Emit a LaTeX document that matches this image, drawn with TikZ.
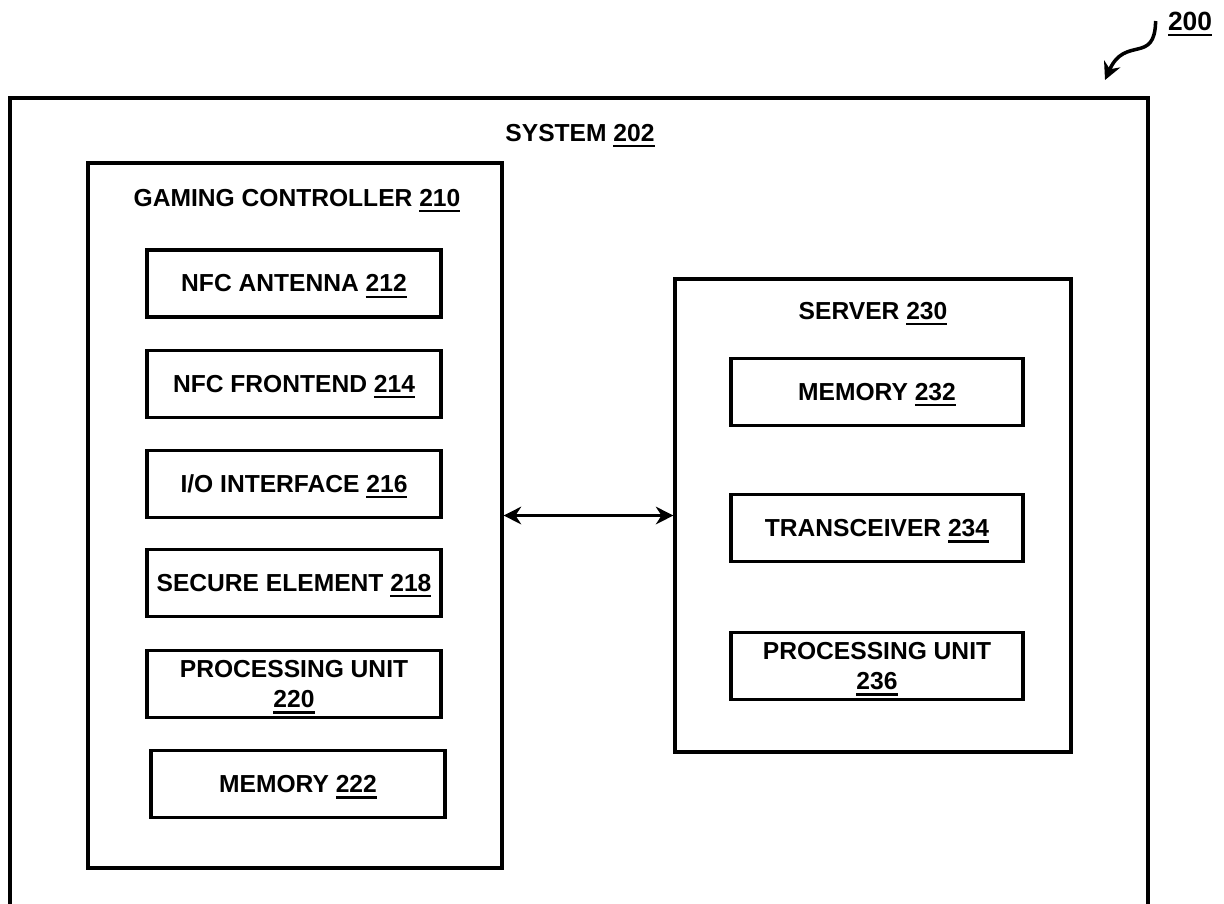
\documentclass[tikz,border=0pt]{standalone}
\usepackage{fontspec}
\setmainfont{Liberation Sans}
\usepackage{tikz}
\usetikzlibrary{arrows.meta, positioning, calc}

\newcommand{\refnum}[1]{\setbox0\hbox{#1}\leavevmode\rlap{\smash{\rule[-1.7pt]{\wd0}{0.65pt}}}\box0}

\begin{document}
\begin{tikzpicture}[
    font=\fontsize{7}{8.5}\selectfont\bfseries,
    blk/.style={draw, line width=0.9pt, rectangle, minimum width=2.94cm, minimum height=0.67cm, align=center, inner sep=1pt},
    frame/.style={draw, line width=0.9pt, rectangle, inner sep=0pt},
    link/.style={{Stealth[length=5pt,width=5pt]}-{Stealth[length=5pt,width=5pt]}, line width=0.9pt}
]
\useasboundingbox (0,0) rectangle (12.24,-9.03);
\clip (0,0) rectangle (12.24,-9.03);

% Outer frames
\node[frame, minimum width=11.38cm, minimum height=8.3cm] (sys) at (5.79,-5.13) {};
\node at (5.80,-1.33) (systxt) {SYSTEM \refnum{202}};
\node[frame, minimum width=4.14cm, minimum height=7.05cm] (gc) at (2.95,-5.155) {};
\node at (2.97,-1.98) (gctxt) {GAMING CONTROLLER \refnum{210}};
\node[frame, minimum width=3.96cm, minimum height=4.73cm] (srv) at (8.73,-5.155) {};
\node at (8.73,-3.11) (srvtxt) {SERVER \refnum{230}};

% Gaming controller parts
\node[blk] (ant) at (2.94,-2.835) {NFC ANTENNA \refnum{212}};
\node[blk, below=0.30cm of ant] (fe) {NFC FRONTEND \refnum{214}};
\node[blk, below=0.30cm of fe] (io) {I/O INTERFACE \refnum{216}};
\node[blk, below=0.29cm of io] (se) {SECURE ELEMENT \refnum{218}};
\node[blk, below=0.31cm of se] (pu) {PROCESSING UNIT\\\refnum{220}};
\node[blk, below=0.30cm of pu, xshift=0.04cm] (mem) {MEMORY \refnum{222}};

% Server parts
\node[blk, minimum width=2.92cm] (smem) at (8.77,-3.92) {MEMORY \refnum{232}};
\node[blk, minimum width=2.92cm, below=0.66cm of smem] (trx) {TRANSCEIVER \refnum{234}};
\node[blk, minimum width=2.92cm, below=0.68cm of trx] (spu) {PROCESSING UNIT\\\refnum{236}};

% Link
\draw[link] (gc.east) -- (srv.west);

% Reference 200
\node[font=\fontsize{7.5}{9}\selectfont\bfseries] (ref) at (11.9,-0.21) {\refnum{200}};
\coordinate (refend) at (11.05,-0.8);
\draw[line width=1pt, -{Stealth[length=5pt,width=5pt]}] (ref.west) .. controls (11.55,-0.65) and (11.25,-0.35) .. (refend);
\end{tikzpicture}
\end{document}
